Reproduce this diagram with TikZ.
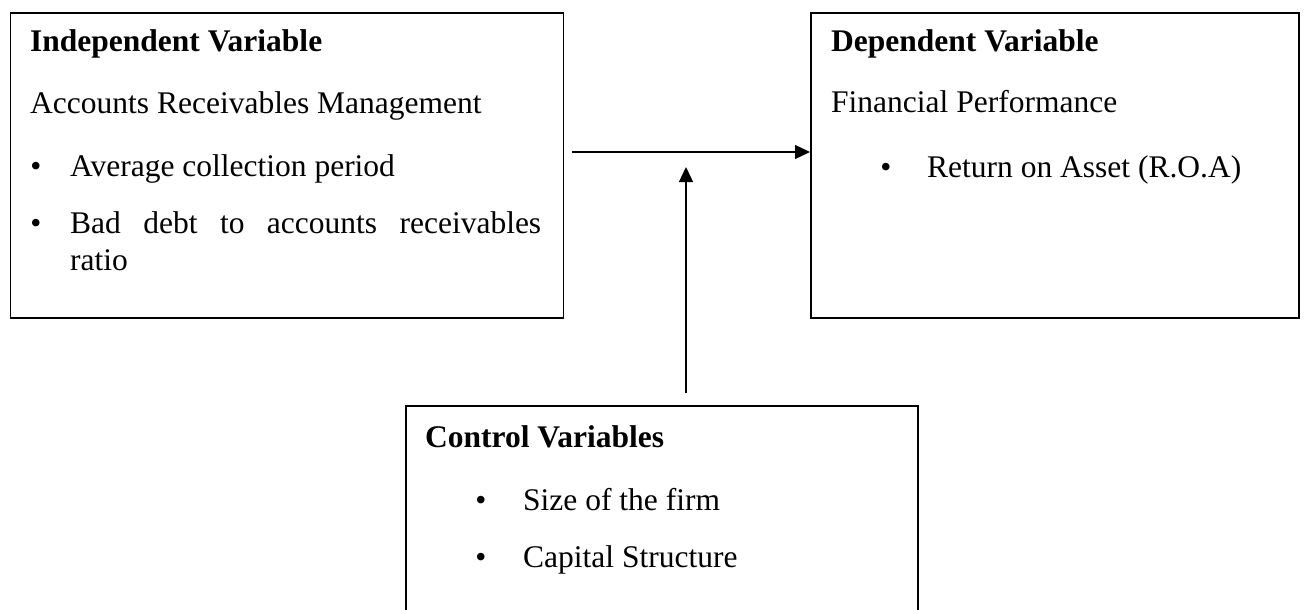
\documentclass[tikz,border=0pt]{standalone}
\usepackage{fontspec}
\setmainfont{Liberation Serif}
\usetikzlibrary{arrows.meta}
\begin{document}
\begin{tikzpicture}[x=1pt,y=-1pt,
  box/.style={draw, line width=1.6pt, inner sep=0pt, anchor=north west},
  txt/.style={anchor=base west, inner sep=0pt, font=\fontsize{31.5}{36}\selectfont},
  ttl/.style={anchor=base west, inner sep=0pt, font=\fontsize{31.5}{36}\selectfont\bfseries},
  bul/.style={anchor=base, inner sep=0pt, font=\fontsize{31.5}{36}\selectfont},
  arr/.style={line width=1.3pt, -{Triangle[length=15pt,width=14pt]}}]
\useasboundingbox (0,0) rectangle (1304,610);
\clip (0,0) rectangle (1304,610);
% boxes
\node[box, minimum width=553pt, minimum height=305pt] (indep) at (9.5,12) {};
\node[box, minimum width=488pt, minimum height=305pt] (dep) at (810,12) {};
\node[box, minimum width=512pt, minimum height=230pt] (ctrl) at (405,405) {};
% independent
\node[ttl] (t1) at (30,52) {Independent Variable};
\node[txt] (a1) at (30,113) {Accounts Receivables Management};
\node[bul] (b1) at (36,176) {•};
\node[txt] (a2) at (70,176) {Average collection period};
\node[bul] (b2) at (36,233) {•};
\node[txt] (a3) at (70,233) {\makebox[471pt][s]{Bad debt to accounts receivables}};
\node[txt] (a4) at (70,270) {ratio};
% dependent
\node[ttl] (t2) at (831,52) {Dependent Variable};
\node[txt] (d1) at (831,112) {Financial Performance};
\node[bul] (b3) at (886,177) {•};
\node[txt] (d2) at (927,177) {Return on Asset (R.O.A)};
% control
\node[ttl] (t3) at (425,447) {Control Variables};
\node[bul] (b4) at (481,510) {•};
\node[txt] (c1) at (523,510) {Size of the firm};
\node[bul] (b5) at (481,567) {•};
\node[txt] (c2) at (523,567) {Capital Structure};
% connectors
\coordinate (hs) at (572,152);
\coordinate (vs) at (686,393);
\coordinate (ve) at (686,167);
\draw[arr] (hs) -- (hs -| dep.west);
\draw[arr] (vs) -- (ve);
\end{tikzpicture}
\end{document}
